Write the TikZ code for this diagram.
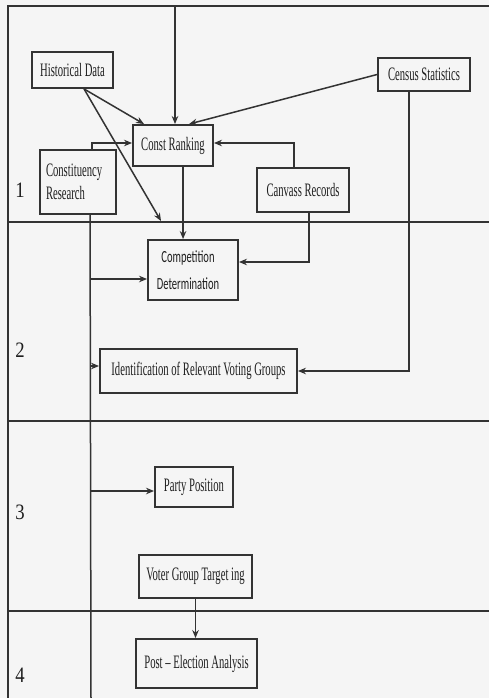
\documentclass[tikz,border=0pt]{standalone}
\usepackage{fontspec}
\setmainfont[FakeStretch=0.56]{Liberation Serif}
\newfontfamily\sansf[FakeStretch=0.62]{Carlito}
\newfontfamily\digf[FakeStretch=0.85]{Liberation Serif}
\usetikzlibrary{arrows.meta,calc}
\definecolor{ink}{HTML}{333333}
\definecolor{txt}{HTML}{1E1E1E}
\definecolor{paper}{HTML}{F5F5F5}
\tikzset{
  box/.style={draw=ink,line width=1.9pt,inner sep=0pt,text=txt,
    font=\fontsize{19}{23}\selectfont},
  arr/.style={draw=ink,line width=1.5pt,-{Stealth[length=8pt,width=6.5pt]}},
  ln/.style={draw=ink,line width=1.5pt},
  framel/.style={draw=ink,line width=2.2pt},
  lab/.style={text=txt,font=\digf\fontsize{22}{24}\selectfont,inner sep=0pt},
}
\begin{document}
\begin{tikzpicture}[x=1pt,y=-1pt]
\fill[paper] (0,0) rectangle (489,698);
\useasboundingbox (0,0) rectangle (489,698);

% frame and dividers
\draw[framel] (8,698) -- (8,6) -- (489,6);
\draw[framel] (8,222) -- (489,222);
\draw[framel] (8,421) -- (489,421);
\draw[framel] (8,611) -- (489,611);

% row labels
\node[lab] (n1) at (20,190) {1};
\node[lab] (n2) at (20,350) {2};
\node[lab] (n3) at (20,512) {3};
\node[lab] (n4) at (20,675) {4};

% boxes
\node[box,minimum width=81pt,minimum height=36pt] (hist) at (72.5,70) {Historical Data};
\node[box,minimum width=92pt,minimum height=33pt] (census) at (424,74.5) {Census Statistics};
\node[box,minimum width=80pt,minimum height=41pt] (crank) at (173,145.5) {Const Ranking};
\node[box,minimum width=76pt,minimum height=64pt,text width=64pt,align=left] (constres) at (78,182) {Constituency\\Research};
\node[box,minimum width=92pt,minimum height=44pt] (canvass) at (303,190) {Canvass Records};
\node[box,minimum width=90pt,minimum height=60pt,align=center,
  font=\sansf\fontsize{17}{27}\selectfont] (comp) at (193,270) {\hspace*{-10pt}Competition\\\hspace*{-10pt}Determination};
\node[box,minimum width=197pt,minimum height=44pt] (ident) at (198.5,371) {Identification of Relevant Voting Groups};
\node[box,minimum width=78pt,minimum height=40pt] (party) at (194,487) {Party Position};
\node[box,minimum width=113pt,minimum height=43pt] (voter) at (195.5,576.5) {Voter Group Target ing};
\node[box,minimum width=121pt,minimum height=49pt] (post) at (196.5,663.5) {Post -- Election Analysis};

% helper coordinates
\coordinate (ttop) at (175,6);
\coordinate (hend) at (161,221);
\coordinate (vbot) at (91,698);
\coordinate (hs) at ($(hist.south west)+(53,0)$);

% connectors
\draw[arr] (ttop) -- (ttop |- crank.north);
\draw[arr] (hs) -- ($(crank.north west)+(12,0)$);
\draw[arr] (hs) -- (hend);
\draw[arr] (census.west) -- ($(crank.north west)+(57,0)$);
\draw[arr] ($(constres.north west)+(53,0)$) |- ([yshift=2.5pt]crank.west);
\draw[arr] ($(canvass.north west)+(38,0)$) |- ([yshift=2.5pt]crank.east);
\draw[arr] ($(canvass.south west)+(53,0)$) |- ([yshift=8pt]comp.east);
\draw[arr] ($(crank.south west)+(51,0)$) -- ($(comp.north west)+(36,0)$);
\draw[arr] ($(census.south west)+(32,0)$) |- (ident.east);
\draw[ln] ($(constres.south west)+(51,0)$) -- (vbot);
\draw[arr] ([yshift=-9pt]comp.west -| vbot) -- ([yshift=-9pt]comp.west);
\draw[arr] ([yshift=5pt]ident.west -| vbot) -- ([yshift=5pt]ident.west);
\draw[arr] ([yshift=-4pt]party.west -| vbot) -- ([yshift=-4pt]party.west);
\draw[arr] (voter.south) -- (voter.south |- post.north);
\end{tikzpicture}
\end{document}
